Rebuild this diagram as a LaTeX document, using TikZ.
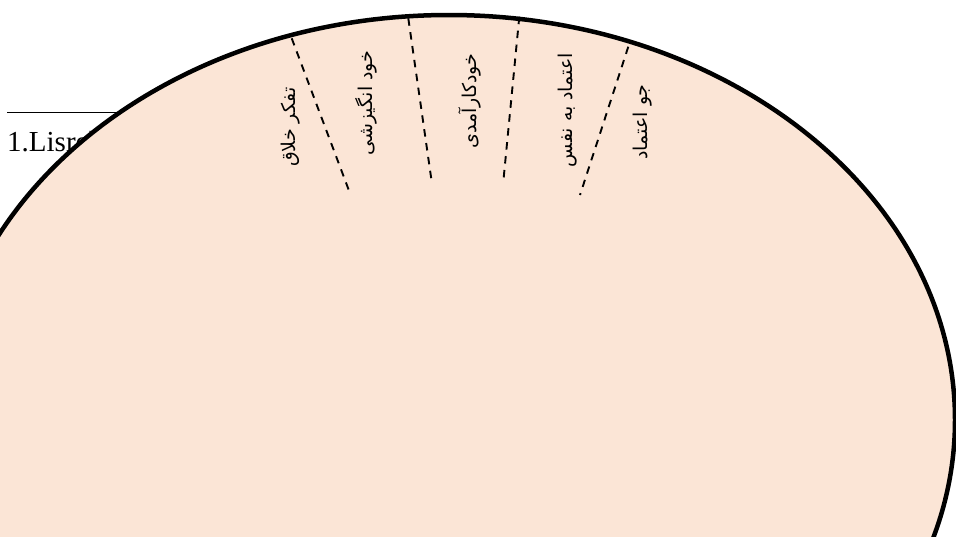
\documentclass[tikz,border=0pt]{standalone}
\usepackage{fontspec}
\setmainfont{Liberation Serif}
\newfontfamily\farsifont[Script=Arabic]{DejaVu Sans}
\TeXXeTstate=1
\definecolor{peach}{RGB}{251,229,214}
\tikzset{
  sector/.style={line width=1.9pt,dash pattern=on 7.5pt off 6.5pt},
  factor/.style={rotate=90,inner sep=0pt,font=\farsifont\fontsize{19}{21}\selectfont}
}
\begin{document}
\begin{tikzpicture}[x=1pt,y=-1pt]
    \useasboundingbox (0,0) rectangle (956,536);
    \clip (0,0) rectangle (956,536);
    % footnote under the shape
    \draw[line width=1.3pt] (7,112.7) -- (220,112.7);
    \node[anchor=base west,inner sep=0pt,font=\fontsize{29}{31}\selectfont] (fn) at (7,151) {1.Lisrel};
    % the shape
    \draw[line width=4.5pt,fill=peach] (449,420) ellipse [x radius=506pt,y radius=405pt];
    % separators
    \coordinate (s1a) at (291.7,38.3);  \coordinate (s1b) at (350,193.3);
    \coordinate (s2a) at (408.3,18.3);  \coordinate (s2b) at (431.7,181.7);
    \coordinate (s3a) at (519.3,16.7);  \coordinate (s3b) at (503.3,181.7);
    \coordinate (s4a) at (628.3,46.7);  \coordinate (s4b) at (580,195);
    \draw[sector] (s1a) -- (s1b);
    \draw[sector] (s2a) -- (s2b);
    \draw[sector] (s3a) -- (s3b);
    \draw[sector] (s4a) -- (s4b);
    % factors
    \node[factor] (creative) at (291,127) {\beginR تفکر خلاق\endR};
    \node[factor] (motive) at (366,103) {\beginR خود انگیزشی\endR};
    \node[factor] (efficacy) at (470,101) {\beginR خودکارآمدی\endR};
    \node[factor] (confidence) at (568,110) {\beginR اعتماد به نفس\endR};
    \node[factor] (climate) at (643,122) {\beginR جو اعتماد\endR};
  \end{tikzpicture}
\end{document}
